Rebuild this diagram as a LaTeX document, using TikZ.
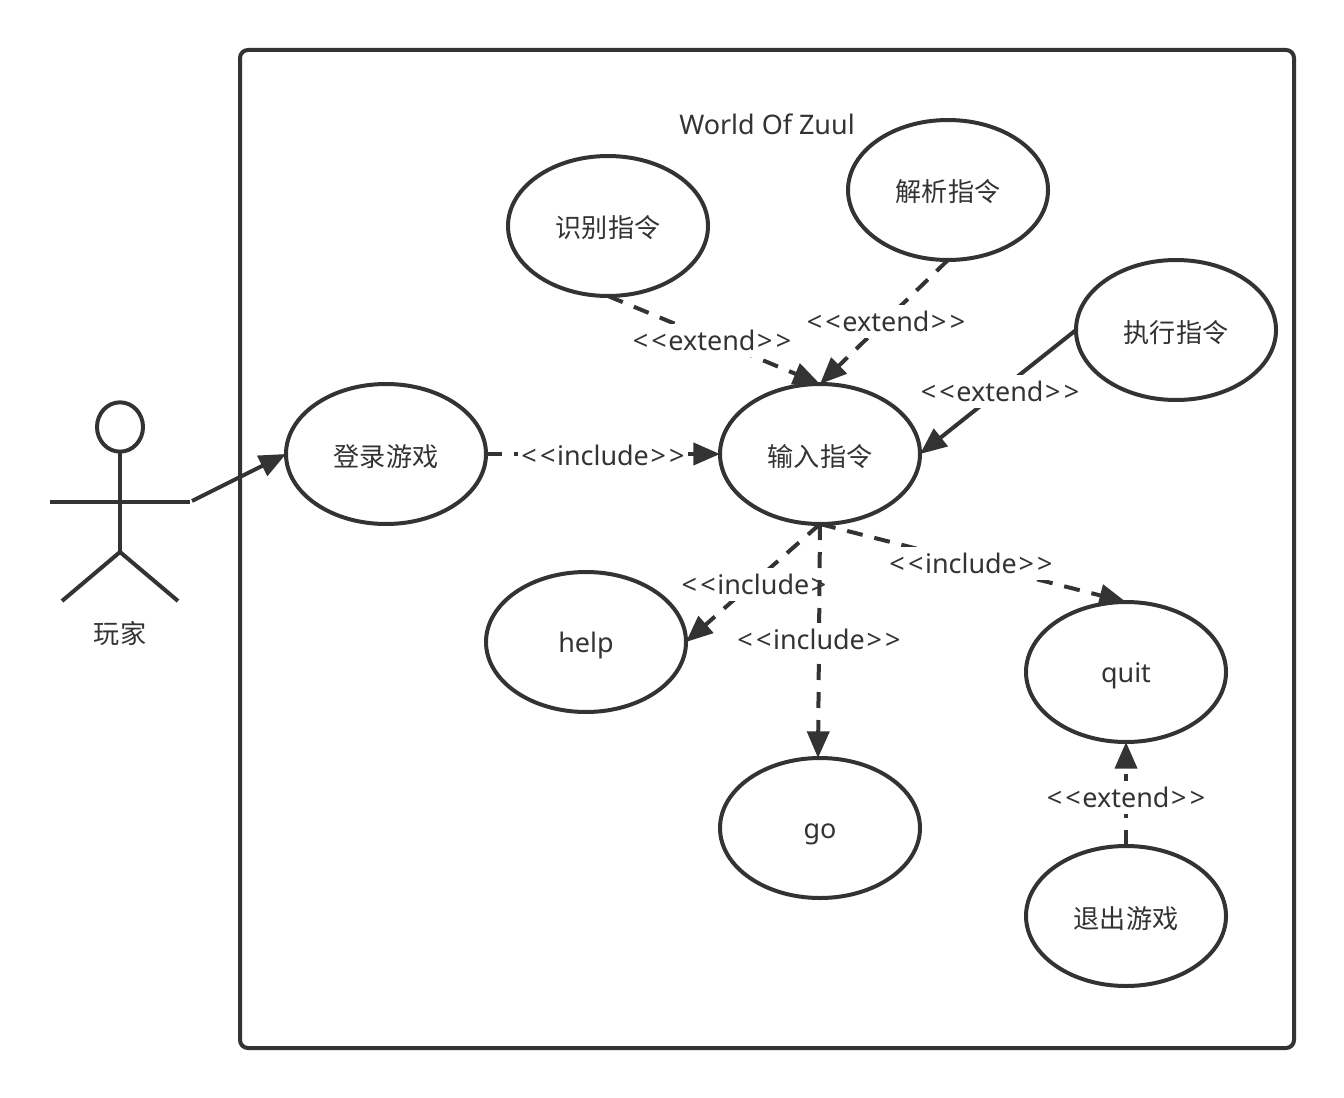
\documentclass[tikz,border=0pt]{standalone}
\usepackage{fontspec}
\setmainfont{Noto Sans}
\newfontfamily\cjk{Noto Sans CJK SC}
\usetikzlibrary{arrows.meta,shapes.geometric}
\definecolor{ink}{HTML}{333333}
\newcommand{\opn}{\makebox[14pt]{<}\makebox[14pt]{<}}
\newcommand{\cls}{\makebox[14pt]{>}\makebox[14pt]{>}}
\tikzset{
  every node/.style={text=ink,font=\fontsize{20.2pt}{24pt}\selectfont},
  usecase/.style={draw=ink,line width=3pt,ellipse,minimum width=150pt,minimum height=105pt,inner sep=0pt,outer sep=0pt,text height=17pt,text depth=2pt},
  cjkcase/.style={usecase,font=\fontsize{19.6pt}{23pt}\selectfont\cjk,text height=20pt},
  solidedge/.style={draw=ink,line width=3pt,-{Triangle[length=20pt,width=16.5pt]}},
  dashedge/.style={solidedge,dash pattern=on 12pt off 9pt},
  edgelabel/.style={fill=white,inner xsep=1.5pt,inner ysep=0pt,minimum height=24.75pt,text height=17pt,text depth=2pt},
  limb/.style={draw=ink,line width=3pt}
}
\begin{document}
\begin{tikzpicture}[x=0.75pt,y=-0.75pt]
\useasboundingbox (0,0) rectangle (1344,1098);
\fill[white] (0,0) rectangle (1344,1098);
\node[draw=ink,line width=3pt,rounded corners=6pt,minimum width=790.5pt,minimum height=748.5pt,inner sep=0pt,outer sep=0pt] (frame) at (767,549) {};
\node[text height=17pt,text depth=2pt] (title) at (767,125) {World Of Zuul};
% actor
\node[draw=ink,line width=3pt,ellipse,minimum width=34.5pt,minimum height=37pt,inner sep=0pt,outer sep=0pt] (head) at (120,427) {};
\coordinate (hip) at (120,552);
\coordinate (armL) at (50,502);
\coordinate (armR) at (190,502);
\coordinate (footL) at (62,601);
\coordinate (footR) at (178,601);
\coordinate (hand) at (192,501);
\draw[limb] (head.south) -- (hip);
\draw[limb] (armL) -- (armR);
\draw[limb] (footL) -- (hip) -- (footR);
\node[font=\fontsize{19.6pt}{23pt}\selectfont\cjk,text height=17pt,text depth=2pt] (actorname) at (120,633) {玩家};
% use cases
\node[cjkcase] (login) at (386,454) {登录游戏};
\node[cjkcase] (input) at (820,454) {输入指令};
\node[cjkcase] (recog) at (608,226) {识别指令};
\node[cjkcase] (parse) at (948,190) {解析指令};
\node[cjkcase] (exec) at (1176,330) {执行指令};
\node[usecase] (help) at (586,642) {help};
\node[usecase] (go) at (820,828) {go};
\node[usecase] (quit) at (1126,672) {quit};
\node[cjkcase] (exit) at (1126,916) {退出游戏};
% connectors
\draw[solidedge] (hand) -- (login.west);
\draw[dashedge] (login.east) -- (input.west);
\node[edgelabel] (l1) at (603,455) {\opn include\cls};
\draw[dashedge] (recog.south) -- (input.north);
\node[edgelabel] (l2) at (712,340) {\opn extend\cls};
\draw[dashedge] (parse.south) -- (input.north);
\node[edgelabel] (l3) at (886,321) {\opn extend\cls};
\draw[solidedge] (exec.west) -- (input.east);
\node[edgelabel] (l4) at (1000,391) {\opn extend\cls};
\draw[dashedge] (input.south) -- (help.east);
\node[edgelabel] (l5) at (754,584) {\opn include\makebox[14pt]{>}};
\draw[dashedge] (input.south) -- ([xshift=-1.5pt]go.north);
\node[edgelabel] (l6) at (819,639) {\opn include\cls};
\draw[dashedge] (input.south) -- (quit.north);
\node[edgelabel] (l7) at (971,563) {\opn include\cls};
\draw[dashedge] (exit.north) -- (quit.south);
\node[edgelabel] (l8) at (1126,797) {\opn extend\cls};
\end{tikzpicture}
\end{document}
